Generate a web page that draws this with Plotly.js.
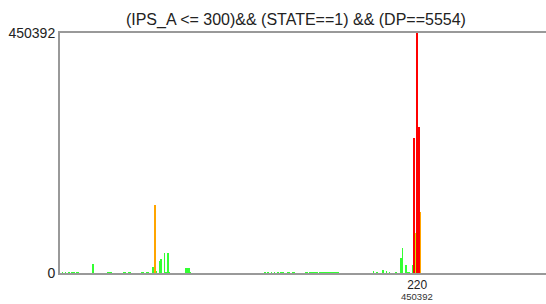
<!DOCTYPE html>
<html>
<head>
<meta charset="utf-8">
<script src="https://cdn.plot.ly/plotly-3.0.1.min.js"></script>
<style>html,body{margin:0;padding:0;background:#fff;overflow:hidden}#chart{width:546px;height:304px}</style>
</head>
<body>
<div id="chart"></div>
<script>
// histogram bins (IPS_A bin index) and counts
const bins = [1,3,5,7,8,10,11,20,29,30,31,39,40,42,43,50,51,53,54,
  57,58,59,61,62,64,65,66,67,77,78,79,80,
  126,128,130,132,134,136,137,140,141,143,144,
  151,152,154,155,156,157,158,160,161,162,163,164,165,166,167,168,169,170,171,
  193,195,199,201,203,207,210,211,213,214,215,217,218,219,220,221,222];
const counts = [1800,1500,2000,1600,1800,1500,2000,16000,1500,2000,1500,1800,1500,2000,1500,1500,2000,1800,1500,
  11800,127600,3800,22500,25700,37000,2000,37000,2400,8800,9000,8800,1500,
  2500,1200,1500,1200,1500,1500,1200,1500,1800,1500,1200,
  1500,1200,1500,1800,1500,1200,1500,1500,1800,1200,1500,1500,1800,1200,1500,1500,1200,1500,1500,
  3700,1500,6000,3700,1500,1500,28700,46000,15000,1500,2000,15000,252800,75600,450392,273400,115000];
const yTicks = [0, 450392];
const xTickVals = [220];
const xTickText = ['220'];
const xTickSub = ['450392'];
const titleText = '(IPS_A <= 300)&& (STATE==1) && (DP==5554)';

const trace = {
  type: 'bar',
  x: bins,
  y: counts,
  width: 1,
  marker: {
    color: counts,
    cmin: 0,
    cmax: 450392,
    colorscale: [[0,'#33ff33'],[0.11,'#33ff33'],[0.168,'#c8f000'],[0.24,'#ffa500'],[0.3,'#ffa500'],[0.5,'#ff0000'],[1,'#ff0000']],
    line: {width: 0}
  },
  hoverinfo: 'x+y'
};

const layout = {
  width: 546, height: 304,
  margin: {l: 60, r: 0, t: 33, b: 31, pad: 0},
  paper_bgcolor: '#fff', plot_bgcolor: '#fff',
  font: {family: '"Liberation Sans", Arial, sans-serif', color: '#222', size: 14},
  title: {text: titleText, font: {size: 16, color: '#222'}, x: 0.542, xref: 'container', xanchor: 'center', y: 0.9375, yref: 'container', yanchor: 'middle'},
  bargap: 0,
  showlegend: false,
  xaxis: {
    range: [-0.5, 299.5], showgrid: false, zeroline: false,
    showline: true, linecolor: '#999', linewidth: 2, mirror: true,
    tickmode: 'array', tickvals: xTickVals, ticktext: xTickText,
    ticks: '', tickfont: {size: 12}
  },
  yaxis: {
    range: [0, 450392], showgrid: false, zeroline: false,
    showline: true, linecolor: '#999', linewidth: 2,
    tickmode: 'array', tickvals: yTicks, ticktext: yTicks.map(String),
    ticks: '', tickfont: {size: 14}
  },
  annotations: xTickVals.map((v, i) => ({
    x: v, xref: 'x', y: -0.098, yref: 'paper',
    text: xTickSub[i], showarrow: false,
    xanchor: 'center', yanchor: 'middle',
    font: {size: 9.5, color: '#333'}
  }))
};

Plotly.newPlot('chart', [trace], layout, {staticPlot: true, displayModeBar: false});
</script>
</body>
</html>
